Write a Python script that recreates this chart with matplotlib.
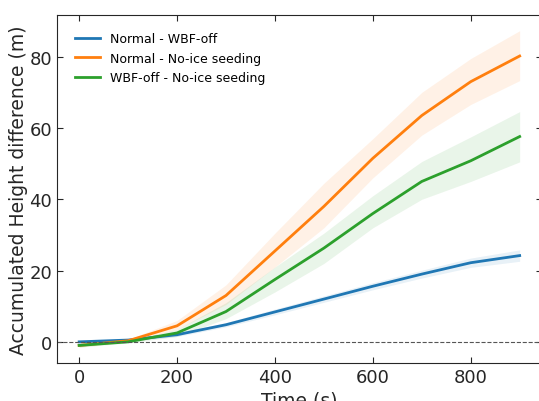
import matplotlib
matplotlib.use("Agg")
import matplotlib.pyplot as plt

time = [0, 100, 200, 300, 400, 500, 600, 700, 800, 900]

wbf = [0, 0.5, 2, 4.8, 8.4, 12, 15.6, 19, 22.2, 24.2]
wbf_lo = [-0.3, 0.2, 1.5, 4.2, 7.6, 11.1, 14.6, 17.9, 20.9, 22.6]
wbf_hi = [0.3, 0.8, 2.5, 5.4, 9.2, 12.9, 16.6, 20.1, 23.5, 25.8]

noice = [-1, 0.3, 4.5, 13, 25.5, 38, 51.5, 63.5, 73, 80.2]
noice_lo = [-1.5, 0, 3.5, 10.5, 21, 32, 46, 58, 66.6, 73.3]
noice_hi = [-0.5, 0.7, 6, 16, 30.5, 44.5, 57, 70, 79.5, 87.3]

wbf_noice = [-1, 0, 2.5, 8.5, 17.5, 26.3, 36, 45, 50.8, 57.6]
wbf_noice_lo = [-1.5, -0.3, 1.5, 6.5, 14, 22, 32, 40, 45, 50.5]
wbf_noice_hi = [-0.5, 0.3, 3.5, 11, 21, 30.5, 41, 50.6, 57.5, 64.6]

fig = plt.figure(figsize=(5.39, 4.02), dpi=100)
ax = fig.add_axes([0.106, 0.0945, 0.899, 0.866])

c1, c2, c3 = "#1f77b4", "#ff7f0e", "#2ca02c"
ax.plot(time, wbf, color=c1, lw=2, label="Normal - WBF-off")
ax.fill_between(time, wbf_lo, wbf_hi, color=c1, alpha=0.1, lw=0)
ax.plot(time, noice, color=c2, lw=2, label="Normal - No-ice seeding")
ax.fill_between(time, noice_lo, noice_hi, color=c2, alpha=0.1, lw=0)
ax.plot(time, wbf_noice, color=c3, lw=2, label="WBF-off - No-ice seeding")
ax.fill_between(time, wbf_noice_lo, wbf_noice_hi, color=c3, alpha=0.1, lw=0)

ax.axhline(0, color="#555555", ls="--", lw=0.8)

ax.set_xlabel("Time (s)", fontsize=13.5, color="#262626", labelpad=3)
ax.set_ylabel("Accumulated Height difference (m)", fontsize=13.5,
              color="#262626", labelpad=1)
ax.set_xticks([0, 200, 400, 600, 800])
ax.set_yticks([0, 20, 40, 60, 80])
ax.tick_params(direction="in", top=True, right=True, labelsize=13,
               colors="#262626", length=4)
for s in ax.spines.values():
    s.set_color("#262626")
ax.legend(loc="upper left", frameon=False, fontsize=9, borderaxespad=1)

fig.savefig("out.png", dpi=100)
